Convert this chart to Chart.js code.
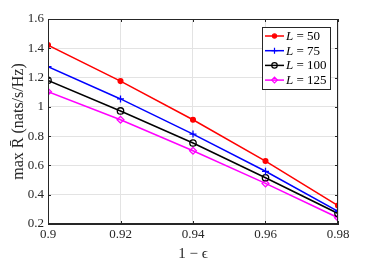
<!DOCTYPE html>
<html><head><meta charset="utf-8">
<script src="https://cdn.jsdelivr.net/npm/chart.js@4/dist/chart.umd.min.js"></script>
<style>html,body{margin:0;padding:0;background:#fff}#w{width:374px;height:263px}</style>
</head><body><div id="w"><canvas id="c"></canvas></div>
<script>
const epsLabels = [0.9, 0.92, 0.94, 0.96, 0.98];
const seriesNames = ["50", "75", "100", "125"];
const rL50  = [1.422, 1.176, 0.912, 0.630, 0.326];
const rL75  = [1.274, 1.054, 0.814, 0.560, 0.286];
const rL100 = [1.181, 0.972, 0.753, 0.516, 0.272];
const rL125 = [1.103, 0.912, 0.700, 0.477, 0.243];
const yTicks = [0.2, 0.4, 0.6, 0.8, 1, 1.2, 1.4, 1.6];

const serif = "'Liberation Serif','DejaVu Serif',serif";
const txt = '#262626';

function mk(vals, color, style, fill, r) {
  return {
    label: '', data: epsLabels.map((x, i) => ({x, y: vals[i]})),
    borderColor: color, backgroundColor: fill ? color : 'rgba(0,0,0,0)',
    borderWidth: 1.5, pointStyle: style, pointRadius: r, pointBorderWidth: 1.3,
    pointBorderColor: color, pointBackgroundColor: fill ? color : 'rgba(0,0,0,0)', tension: 0
  };
}
const datasets = [
  mk(rL50, '#ff0000', 'circle', true, 2.4),
  mk(rL75, '#0000ff', 'cross', false, 3.5),
  mk(rL100, '#000000', 'circle', false, 3.2),
  mk(rL125, '#ff00ff', 'rectRot', false, 3.4)
];
datasets.forEach((d, i) => d.label = 'L = ' + seriesNames[i]);

const frame = {
  id: 'frame',
  afterDatasetsDraw(chart) {
    const {ctx, chartArea: a, scales: {x, y}} = chart;
    ctx.save();
    ctx.strokeStyle = '#262626'; ctx.lineWidth = 1;
    ctx.strokeRect(a.left + 0.5, a.top + 0.5, a.right - a.left - 1, a.bottom - a.top - 1);
    ctx.beginPath();
    yTicks.forEach(v => {
      const py = Math.round(y.getPixelForValue(v)) + 0.5;
      ctx.moveTo(a.left, py); ctx.lineTo(a.left + 3, py);
      ctx.moveTo(a.right, py); ctx.lineTo(a.right - 3, py);
    });
    epsLabels.forEach(v => {
      const px = Math.round(x.getPixelForValue(v)) + 0.5;
      ctx.moveTo(px, a.bottom); ctx.lineTo(px, a.bottom - 3);
      ctx.moveTo(px, a.top); ctx.lineTo(px, a.top + 3);
    });
    ctx.stroke();
    // legend
    const lx = 262, ly = 27, lw = 68, lh = 62;
    ctx.fillStyle = '#fff'; ctx.fillRect(lx, ly, lw, lh);
    ctx.strokeStyle = '#262626'; ctx.lineWidth = 1;
    ctx.strokeRect(lx + 0.5, ly + 0.5, lw, lh);
    chart.data.datasets.forEach((d, i) => {
      const cy = ly + 9 + i * 14.7;
      ctx.strokeStyle = d.borderColor; ctx.lineWidth = 1.5;
      ctx.beginPath(); ctx.moveTo(lx + 3, cy); ctx.lineTo(lx + 22, cy); ctx.stroke();
      ctx.fillStyle = d.pointBackgroundColor; ctx.strokeStyle = d.borderColor; ctx.lineWidth = 1.2;
      Chart.helpers.drawPoint(ctx, {pointStyle: d.pointStyle, radius: d.pointRadius * 0.85, borderWidth: 1.2}, lx + 12.5, cy);
      ctx.fillStyle = '#000'; ctx.textBaseline = 'middle'; ctx.textAlign = 'left';
      ctx.font = 'italic 13px ' + serif;
      ctx.fillText('L', lx + 24, cy + 0.5);
      const w = ctx.measureText('L').width;
      ctx.font = '13px ' + serif;
      ctx.fillText(' = ' + seriesNames[i], lx + 24 + w, cy + 0.5);
    });
    ctx.restore();
  }
};

new Chart(document.getElementById('c'), {
  type: 'line',
  data: { datasets },
  options: {
    responsive: true, maintainAspectRatio: false, animation: false,
    layout: { padding: { left: 0, top: 19, right: 36, bottom: 0 } },
    plugins: { legend: { display: false }, tooltip: { enabled: false } },
    scales: {
      x: {
        type: 'linear', min: 0.9, max: 0.98,
        afterBuildTicks: s => { s.ticks = epsLabels.map(v => ({value: v})); },
        afterFit: s => { s.height = 39; },
        grid: { color: '#e3e3e3', drawTicks: false, lineWidth: 1 },
        border: { color: '#262626' },
        ticks: { color: txt, font: { family: serif, size: 13 }, padding: 3, maxRotation: 0,
          callback: v => String(Math.round(v * 100) / 100) },
        title: { display: true, text: '1 − ϵ', color: txt, font: { family: serif, size: 15 }, padding: { top: 0, bottom: 0 } }
      },
      y: {
        min: 0.2, max: 1.6,
        afterBuildTicks: s => { s.ticks = yTicks.map(v => ({value: v})); },
        afterFit: s => { s.width = 48; },
        grid: { color: '#e3e3e3', drawTicks: false, lineWidth: 1 },
        border: { color: '#262626' },
        ticks: { color: txt, font: { family: serif, size: 13 }, padding: 4,
          callback: v => String(Math.round(v * 10) / 10) },
        title: { display: true, text: 'max R̄ (nats/s/Hz)', color: txt, font: { family: serif, size: 16 }, padding: { top: 9, bottom: 0 } }
      }
    }
  },
  plugins: [frame]
});
</script></body></html>
